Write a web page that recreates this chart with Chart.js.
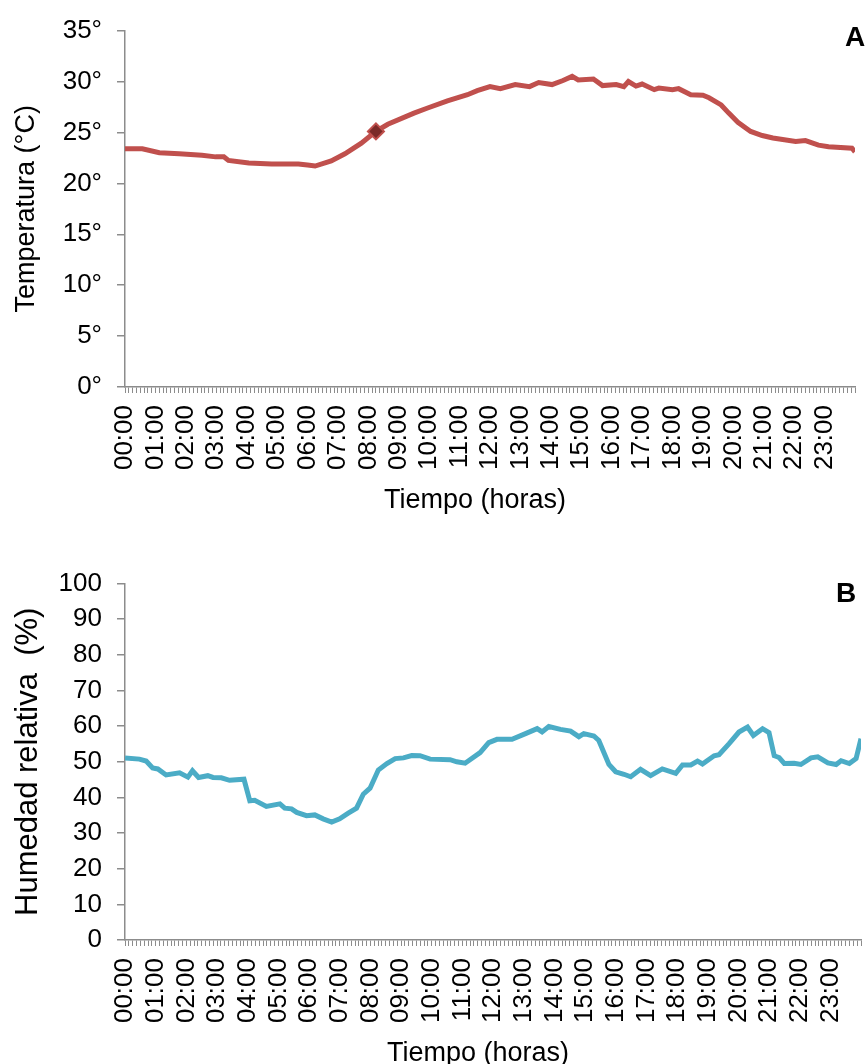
<!DOCTYPE html>
<html>
<head>
<meta charset="utf-8">
<script src="https://cdn.jsdelivr.net/npm/chart.js@4"></script>
<style>
  html, body { margin:0; padding:0; background:#fff; overflow:hidden; }
  #wrap { position:relative; width:865px; height:1064px; overflow:hidden; }
  .box { position:absolute; left:0; width:865px; height:530px; }
  .tag { position:absolute; font:bold 28px "Liberation Sans", Arial, sans-serif; line-height:1; color:#000; }
</style>
</head>
<body>
<div id="wrap">
  <div class="box" style="top:0"><canvas id="chartA" width="865" height="530"></canvas></div>
  <div class="box" style="top:553px"><canvas id="chartB" width="865" height="530"></canvas></div>
  <div class="tag" style="left:845px;top:23px">A</div>
  <div class="tag" style="left:836px;top:579px">B</div>
</div>
<script>
// hours of day (decimal)
var tempHours = [0,0.57,1.13,1.78,2.53,2.98,3.25,3.4,4.07,4.82,5.7,6.0,6.25,6.78,7.23,7.77,8.25,8.64,9.5,9.95,
  10.6,11.26,11.58,12.0,12.34,12.83,13.3,13.6,14.04,14.4,14.7,14.9,15.4,15.7,16.15,16.4,16.55,16.8,17.0,17.4,
  17.55,18.0,18.2,18.6,19.0,19.2,19.6,19.85,20.15,20.57,20.95,21.3,22.05,22.37,22.8,23.13,23.9,24.0]
var tempValues = [23.4,23.4,23.0,22.9,22.75,22.6,22.6,22.25,22.0,21.9,21.9,21.8,21.7,22.2,22.9,23.95,25.1,25.8,26.9,27.4,
  28.1,28.7,29.1,29.5,29.3,29.7,29.5,29.9,29.7,30.1,30.5,30.15,30.25,29.6,29.7,29.5,30.0,29.55,29.75,29.2,
  29.35,29.2,29.3,28.7,28.65,28.4,27.7,26.9,26.0,25.1,24.7,24.45,24.1,24.2,23.75,23.6,23.45,23.1]
var markHour = [8.25]
var markValue = [25.1]

var humHours = [0,0.47,0.69,0.9,1.07,1.34,1.78,2.05,2.2,2.4,2.7,2.87,3.14,3.41,3.88,4.07,4.23,4.61,5.05,5.21,
  5.43,5.6,5.92,6.19,6.46,6.74,7.0,7.28,7.55,7.77,7.99,8.26,8.54,8.81,9.08,9.35,9.62,9.95,10.6,10.82,
  11.09,11.58,11.86,12.13,12.62,13.06,13.44,13.6,13.82,14.2,14.53,14.8,14.96,15.29,15.45,15.78,16.0,16.27,16.49,16.81,
  17.14,17.52,17.96,18.18,18.45,18.67,18.83,19.21,19.37,19.7,20.02,20.3,20.49,20.79,21.0,21.17,21.33,21.5,21.82,22.04,
  22.37,22.59,22.92,23.19,23.35,23.62,23.84,24.0]
var humValues = [51.1,50.75,50.2,48.3,48.0,46.3,46.9,45.7,47.5,45.6,46.1,45.6,45.5,44.8,45.1,39.05,39.2,37.5,38.2,37.0,
  36.8,35.8,34.9,35.1,34.0,33.1,34.0,35.6,37.0,40.9,42.6,47.7,49.5,50.9,51.1,51.75,51.7,50.75,50.6,50.0,
  49.6,52.6,55.4,56.3,56.3,57.9,59.3,58.4,59.9,59.1,58.6,57.05,57.9,57.25,56.0,49.25,47.2,46.5,45.8,47.9,
  46.1,48.0,46.75,49.1,49.1,50.2,49.4,51.7,52.0,55.1,58.35,59.75,57.4,59.3,58.2,51.7,51.2,49.5,49.6,49.25,
  51.1,51.4,49.7,49.25,50.3,49.5,50.9,56.5]

var axisGray = '#8c8c8c'
var fontName = '"Liberation Sans", Arial, sans-serif'

function pts(xs, ys){
    var out = []
    for (var i = 0; i < xs.length; i++) out.push({x: xs[i], y: ys[i]})
    return out
}
function hourLabel(v){
    if (Math.abs(v % 1) > 1e-6 || v >= 24) return ''
    var h = Math.round(v)
    return (h < 10 ? '0' + h : '' + h) + ':00'
}

function makeOptions(yTitle, yTitleSize, yMax, yStep, ySuffix){
    return {
        responsive: false,
        animation: false,
        layout: { padding: { top: 0, right: 4, left: 0, bottom: 0 } },
        plugins: { legend: { display: false }, tooltip: { enabled: false } },
        scales: {
            x: {
                type: 'linear',
                min: 0, max: 24,
                afterFit: function(s){ s.height = 143; s.paddingRight = 0; s.paddingLeft = 0 },
                border: { color: axisGray, width: 1.5 },
                grid: { drawOnChartArea: false, color: axisGray, tickLength: 6, lineWidth: 1 },
                ticks: {
                    stepSize: 0.125, maxTicksLimit: 250, autoSkip: false,
                    minRotation: 90, maxRotation: 90, padding: 12,
                    color: '#000', font: { family: fontName, size: 26 },
                    callback: hourLabel
                },
                // trailing spaces nudge the centred title a bit to the left, as in the original
                title: { display: true, text: 'Tiempo (horas)\u00a0\u00a0\u00a0\u00a0', color: '#000',
                    font: { family: fontName, size: 27 }, padding: { top: 0, bottom: 13 } }
            },
            y: {
                min: 0, max: yMax,
                afterFit: function(s){ s.width = 125 },
                border: { color: axisGray, width: 1.5 },
                grid: { drawOnChartArea: false, color: axisGray, tickLength: 8, lineWidth: 1.5 },
                ticks: {
                    stepSize: yStep, padding: 15, color: '#000',
                    font: { family: fontName, size: 26 },
                    callback: function(v){ return v + ySuffix }
                },
                title: { display: true, text: yTitle, color: '#000',
                    font: { family: fontName, size: yTitleSize }, padding: { top: 10, bottom: 10 } }
            }
        }
    }
}

var optA = makeOptions('Temperatura (°C)', 27, 35, 5, '°')
optA.layout.padding.top = 29
var chartA = new Chart(document.getElementById('chartA').getContext('2d'), {
    type: 'line',
    data: {
        datasets: [{
            data: pts(markHour, markValue),
            showLine: false,
            pointStyle: 'rectRot',
            pointRadius: 8,
            backgroundColor: '#7b2a28',
            borderColor: '#c0504d',
            borderWidth: 2,
            order: 0
        }, {
            data: pts(tempHours, tempValues),
            borderColor: '#c0504d',
            borderWidth: 5,
            pointRadius: 0,
            tension: 0,
            fill: false,
            order: 1
        }]
    },
    options: optA
})

var optB = makeOptions('Humedad relativa  (%)', 31, 100, 10, '')
optB.layout.padding.top = 27
var chartB = new Chart(document.getElementById('chartB').getContext('2d'), {
    type: 'line',
    data: {
        datasets: [{
            data: pts(humHours, humValues),
            borderColor: '#4bacc6',
            borderWidth: 5,
            pointRadius: 0,
            tension: 0,
            fill: false
        }]
    },
    options: optB
})
</script>
</body>
</html>
